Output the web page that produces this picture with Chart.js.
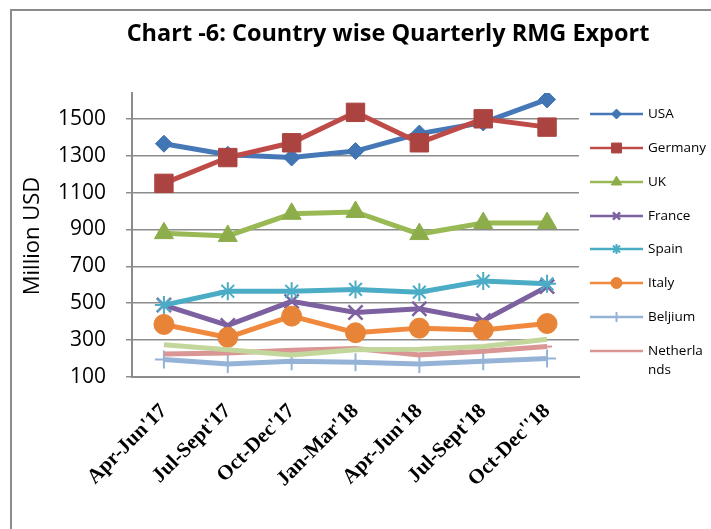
<!DOCTYPE html>
<html><head><meta charset="utf-8">
<script src="https://cdn.jsdelivr.net/npm/chart.js@4.4.1/dist/chart.umd.min.js"></script>
<style>html,body{margin:0;padding:0;background:#fff;} canvas{display:block;}</style>
</head><body>
<canvas id="c" width="711" height="529"></canvas>
<script>
const titleText = "Chart -6: Country wise Quarterly RMG Export";
const yTitle = "Million USD";
const categories = ["Apr-Jun'17","Jul-Sept'17","Oct-Dec'17","Jan-Mar'18","Apr-Jun'18","Jul-Sept'18","Oct-Dec''18"];
const usa = [1365,1305,1290,1325,1420,1480,1605];
const germany = [1150,1290,1370,1535,1370,1500,1455];
const uk = [880,865,985,995,875,935,935];
const france = [490,380,510,450,470,405,590];
const spain = [490,565,565,575,560,620,605];
const italy = [385,315,430,340,365,355,390];
const beljium = [195,170,185,180,170,185,200];
const netherlands = [225,230,245,255,220,240,265];
const otherSeries = [275,248,220,248,250,265,305];
const yTicks = [100,300,500,700,900,1100,1300,1500];
const legendNames = ["USA","Germany","UK","France","Spain","Italy","Beljium","Netherla\nnds"];

function ds(label, data, line, pt, style, r, bw, legend) {
  return {label, data, borderColor: line, backgroundColor: pt, pointBackgroundColor: pt,
    pointBorderColor: pt, pointStyle: style, pointRadius: r, pointHoverRadius: r,
    pointBorderWidth: bw, borderWidth: 5, tension: 0, fill: false, _legend: legend};
}
const datasets = [
  ds("USA", usa, "#4677B6", "#4275B4", "rectRot", 8.5, 1, {r:5}),
  ds("Germany", germany, "#BE4B48", "#AB4440", "rect", 13, 1, {r:7}),
  ds("UK", uk, "#98B954", "#8DAD4B", "triangle", 11, 1, {r:6}),
  ds("France", france, "#7D60A0", "#7D60A0", "crossRot", 10, 2.5, {r:5}),
  ds("Spain", spain, "#4BACC6", "#4BACC6", "star", 9, 2, {r:5}),
  ds("Italy", italy, "#F0893D", "#E88437", "circle", 10, 1, {r:5.5}),
  ds("Beljium", beljium, "#95B3D7", "#95B3D7", "cross", 9, 2, {r:5}),
  ds("Netherlands", netherlands, "#D99694", "#D99694", "dash", 5, 2, {r:4}),
  ds("Other", otherSeries, "#C3D69B", "#C3D69B", "circle", 0, 0, null)
];
datasets.forEach((d, i) => { d.order = -i; });

const decor = {
  id: 'decor',
  afterDraw(chart) {
    const ctx = chart.ctx;
    ctx.save();
    ctx.strokeStyle = '#8c8c8c'; ctx.lineWidth = 2;
    ctx.beginPath(); ctx.moveTo(11, 529); ctx.lineTo(11, 10); ctx.lineTo(711, 10); ctx.stroke();
    let fs = 22;
    ctx.font = "bold " + fs + "px 'Open Sans'";
    const w = ctx.measureText(titleText).width;
    fs = fs * 523 / w;
    ctx.font = "bold " + fs.toFixed(2) + "px 'Open Sans'";
    ctx.fillStyle = '#000'; ctx.textAlign = 'center'; ctx.textBaseline = 'middle';
    ctx.fillText(titleText, 388, 34);
    ctx.save();
    ctx.translate(33, 236); ctx.rotate(-Math.PI/2);
    ctx.font = "22px 'Open Sans'";
    ctx.fillText(yTitle, 0, 0);
    ctx.restore();
    const ys = [114,148,182,216,249,283,317,351];
    ctx.textAlign = 'left';
    ctx.font = "13.5px 'Open Sans'";
    for (let i = 0; i < 8; i++) {
      const d = datasets[i];
      const y = ys[i];
      ctx.strokeStyle = d.borderColor; ctx.lineWidth = 2.5;
      ctx.beginPath(); ctx.moveTo(590, y); ctx.lineTo(643, y); ctx.stroke();
      ctx.fillStyle = d.pointBackgroundColor; ctx.strokeStyle = d.pointBorderColor;
      ctx.lineWidth = d.pointBorderWidth;
      Chart.helpers.drawPoint(ctx, {pointStyle: d.pointStyle, radius: d._legend.r, borderWidth: d.pointBorderWidth, rotation: 0}, 616.5, y);
      ctx.fillStyle = '#000';
      const lines = legendNames[i].split('\n');
      lines.forEach((t, k) => ctx.fillText(t, 648, y + k * 19));
    }
    ctx.restore();
  }
};

new Chart(document.getElementById('c'), {
  type: 'line',
  data: { labels: categories, datasets },
  options: {
    responsive: false, animation: false,
    layout: { padding: { left: 0, top: 93, right: 132, bottom: 0 } },
    plugins: { legend: { display: false }, title: { display: false }, tooltip: { enabled: false } },
    scales: {
      x: {
        offset: true,
        grid: { display: false },
        border: { display: true, color: '#8c8c8c', width: 2 },
        ticks: { maxRotation: 45, minRotation: 45, padding: 14, color: '#000',
          font: { family: "'Liberation Serif'", weight: 'bold', size: 21 } },
        afterFit: s => { s.height = 152; }
      },
      y: {
        min: 100, max: 1640,
        afterBuildTicks: s => { s.ticks = yTicks.map(v => ({ value: v })); },
        grid: { color: '#8c8c8c', lineWidth: 1.5, drawTicks: true, tickLength: 6 },
        border: { display: true, color: '#8c8c8c', width: 2 },
        ticks: { padding: 20, color: '#000', font: { family: "'Open Sans'", size: 21 },
          callback: v => String(v) },
        afterFit: s => { s.width = 132; }
      }
    }
  },
  plugins: [decor]
});
</script>
</body></html>
